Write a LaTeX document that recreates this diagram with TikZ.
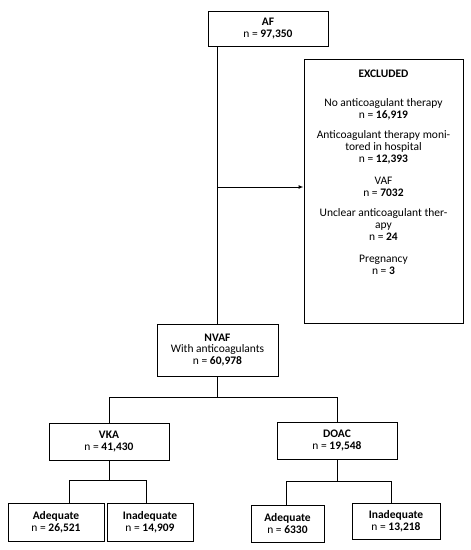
\documentclass[tikz,border=0pt]{standalone}
\usepackage{fontspec}
\setmainfont{Carlito}
\usetikzlibrary{arrows.meta}

\begin{document}
\begin{tikzpicture}[
    x=1pt, y=-1pt,
    every node/.style={font=\fontsize{11.5}{11.8}\selectfont},
    box/.style={draw, line width=1pt, align=center, inner sep=2pt},
    link/.style={line width=1pt}
]
\useasboundingbox (0,0) rectangle (471,550);

% Top
\node[box, minimum width=120, minimum height=35] (af) at (268,28.5) {\textbf{AF}\\n = \textbf{97,350}};
\node[box, minimum width=159, minimum height=264] (excl) at (383.5,191) {};
\node[below=8pt, align=center] (excltext) at (excl.north) {%
    \textbf{EXCLUDED}\\[17pt]
    No anticoagulant therapy\\ n = \textbf{16,919}\\[9pt]
    Anticoagulant therapy moni-\\ tored in hospital\\ n = \textbf{12,393}\\[10pt]
    VAF\\ n = \textbf{7032}\\[9pt]
    Unclear anticoagulant ther-\\ apy\\ n = \textbf{24}\\[10pt]
    Pregnancy\\ n = \textbf{3}};
\node[box, minimum width=121, minimum height=52] (nvaf) at (217.5,350) {\textbf{NVAF}\\With anticoagulants\\n = \textbf{60,978}};

% Treatment groups
\node[box, minimum width=120, minimum height=37] (vka) at (109,441.5) {\textbf{VKA}\\n = \textbf{41,430}};
\node[box, minimum width=120, minimum height=37] (doac) at (337,440.5) {\textbf{DOAC}\\n = \textbf{19,548}};

% Control
\node[box, minimum width=96, minimum height=38] (vkaok) at (56,522) {\textbf{Adequate}\\n = \textbf{26,521}};
\node[box, minimum width=86, minimum height=38] (vkabad) at (150,522) {\textbf{Inadequate}\\n = \textbf{14,909}};
\node[box, minimum width=73, minimum height=37] (doacok) at (287.5,523.5) {\textbf{Adequate}\\n = \textbf{6330}};
\node[box, minimum width=88, minimum height=36] (doacbad) at (396,521) {\textbf{Inadequate}\\n = \textbf{13,218}};

% Connectors
\draw[link] (nvaf.north |- af.south) -- (nvaf.north);
\draw[link, -{Latex[length=5pt,width=4pt]}] (nvaf.north |- 0,187) -- (excl.west |- 0,187);
\draw[link] (nvaf.south) -- ++(0,21) coordinate (fork);
\draw[link] (vka.north) |- (fork) -| (doac.north);
\draw[link] (vka.south) -- ++(0,20) coordinate (vkafork);
\draw[link] ([xshift=13pt]vkaok.north) |- (vkafork) -| ([xshift=-4pt]vkabad.north);
\draw[link] (doac.south) -- ++(0,22) coordinate (doacfork);
\draw[link] ([xshift=-1.5pt]doacok.north) |- (doacfork) -| ([xshift=-5pt]doacbad.north);

\end{tikzpicture}
\end{document}
